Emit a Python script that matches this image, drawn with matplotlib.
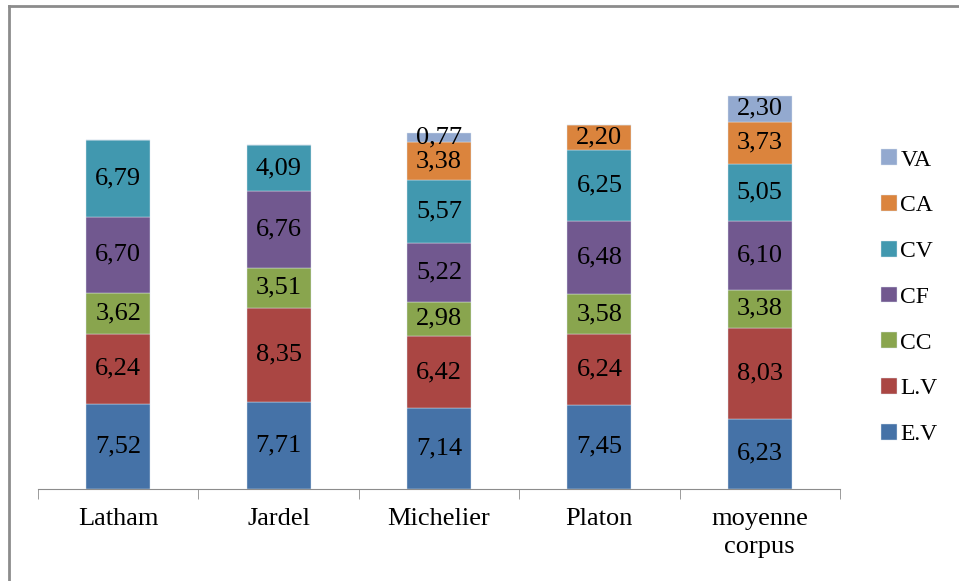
import numpy as np
import matplotlib.pyplot as plt
from matplotlib.lines import Line2D

# data
categories = ["Latham", "Jardel", "Michelier", "Platon", "moyenne\ncorpus"]
series_names = ["E.V", "L.V", "CC", "CF", "CV", "CA", "VA"]
ev = [7.52, 7.71, 7.14, 7.45, 6.23]
lv = [6.24, 8.35, 6.42, 6.24, 8.03]
cc = [3.62, 3.51, 2.98, 3.58, 3.38]
cf = [6.70, 6.76, 5.22, 6.48, 6.10]
cv = [6.79, 4.09, 5.57, 6.25, 5.05]
ca = [0.0, 0.0, 3.38, 2.20, 3.73]
va = [0.0, 0.0, 0.77, 0.0, 2.30]

colors = ["#4572A7", "#AA4643", "#89A54E", "#71588F", "#4198AF", "#DB843D", "#93A9CF"]

plt.rcParams["font.family"] = ["Liberation Serif", "DejaVu Serif"]

fig = plt.figure(figsize=(9.59, 5.81), dpi=100)
ax = fig.add_axes([38 / 959, 1 - 489 / 581, (840 - 38) / 959, (489 - 37) / 581])

x = np.arange(len(categories))
bottom = np.zeros(len(categories))
handles = []
for name, vals, col in zip(series_names, [ev, lv, cc, cf, cv, ca, va], colors):
    vals = np.array(vals)
    bars = ax.bar(x, vals, width=0.4, bottom=bottom, color=col, label=name,
                  edgecolor="#dde6f0", linewidth=0.3)
    for xi, b, v in zip(x, bottom, vals):
        if v > 0:
            ax.text(xi, b + v / 2, f"{v:.2f}".replace(".", ","),
                    ha="center", va="center", fontsize=19, color="black")
    bottom += vals
    handles.append(bars)

ax.set_xlim(-0.5, len(categories) - 0.5)
ax.set_ylim(0, 40)

# axes styling
for side in ["top", "right", "left"]:
    ax.spines[side].set_visible(False)
ax.spines["bottom"].set_color("#8c8c8c")
ax.set_yticks([])
ax.set_xticks(x)
ax.set_xticklabels(categories, fontsize=19, linespacing=1.3)
ax.tick_params(axis="x", which="major", length=0, pad=14)
ax.set_xticks(np.arange(-0.5, len(categories)), minor=True)
ax.tick_params(axis="x", which="minor", length=7, color="#8c8c8c")

leg = fig.legend(handles[::-1], series_names[::-1], loc="upper left",
                 bbox_to_anchor=(872 / 959, 1 - 140 / 581), frameon=False,
                 fontsize=17, handlelength=0.65, handleheight=0.65,
                 handletextpad=0.15, labelspacing=1.04, borderaxespad=0)

# outer frame (left and top edges)
fig.add_artist(Line2D([9 / 959, 9 / 959], [0, 1 - 6 / 581], transform=fig.transFigure,
                      color="#8c8c8c", linewidth=2))
fig.add_artist(Line2D([9 / 959, 1], [1 - 6 / 581, 1 - 6 / 581], transform=fig.transFigure,
                      color="#8c8c8c", linewidth=2))

fig.savefig("out.png", dpi=100)
